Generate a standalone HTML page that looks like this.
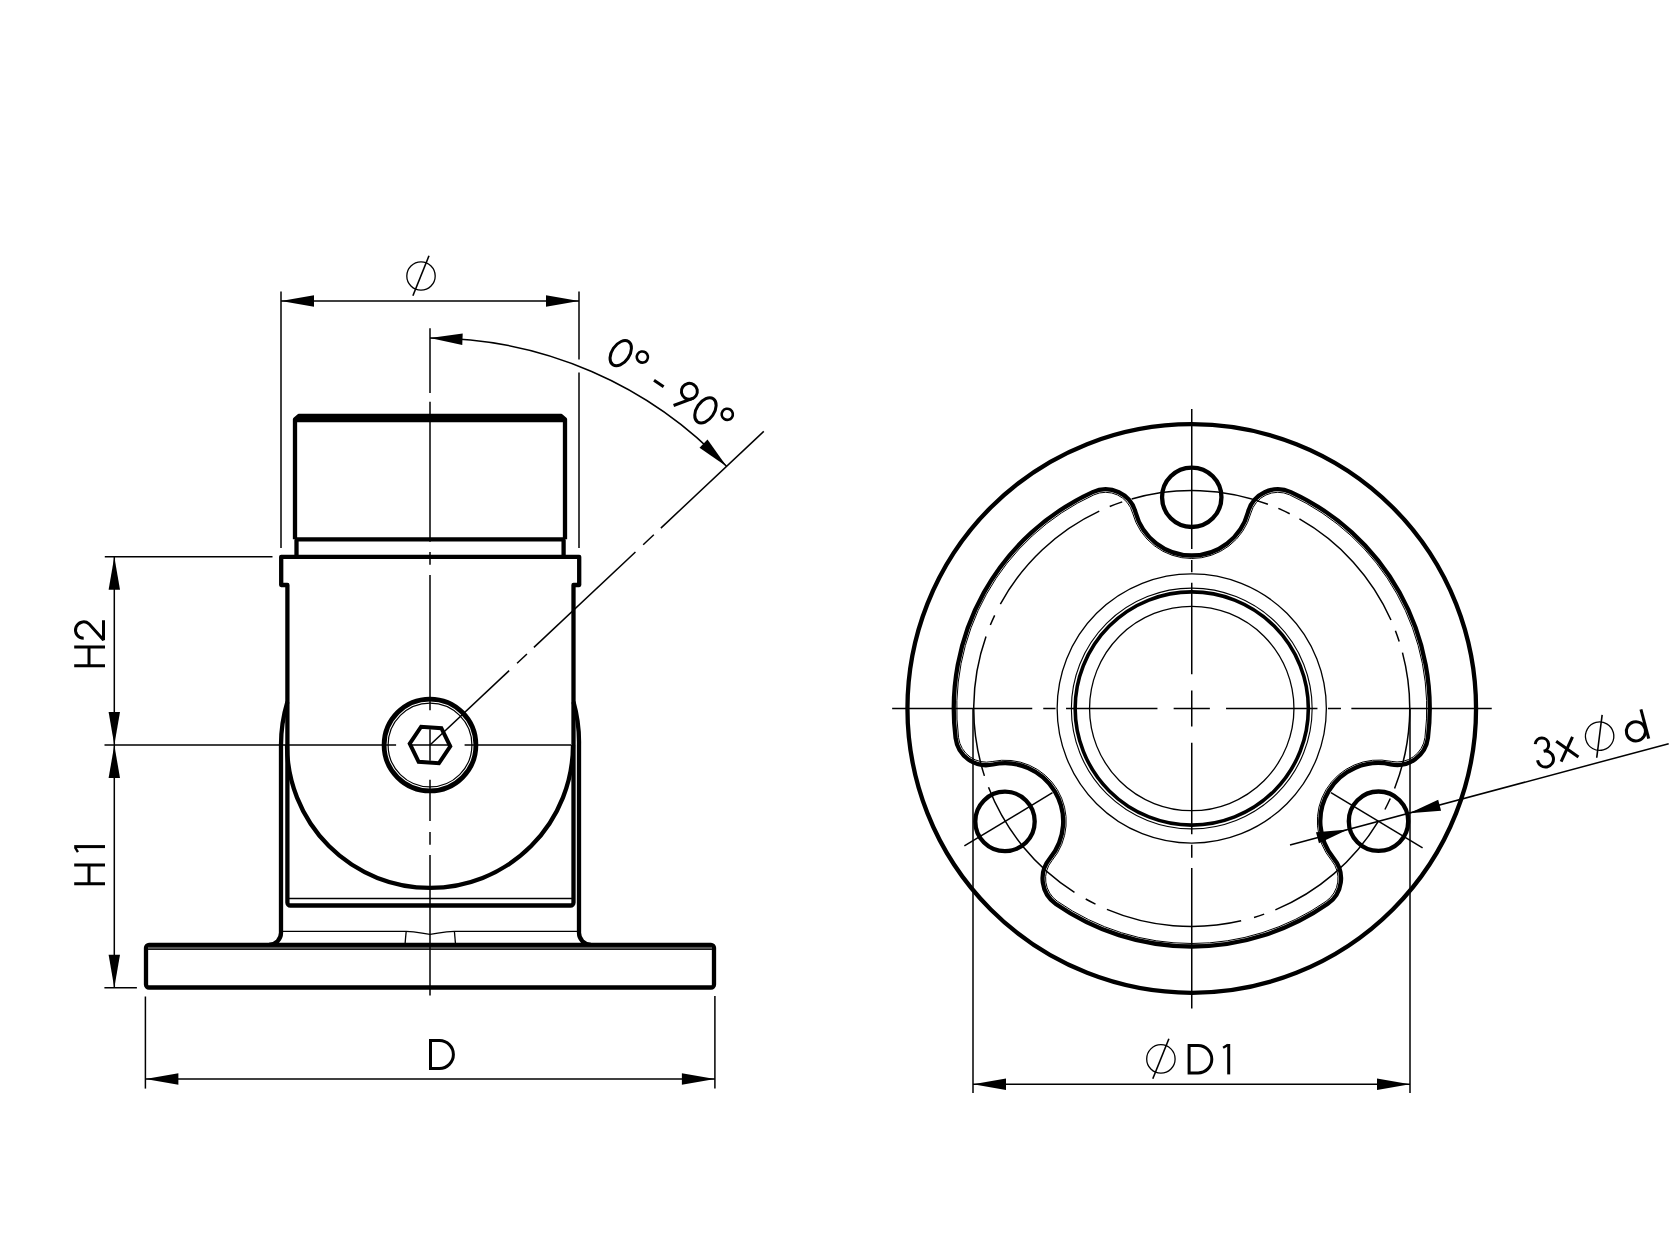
<!DOCTYPE html>
<html><head><meta charset="utf-8"><style>
html,body{margin:0;padding:0;background:#fff;font-family:"Liberation Sans",sans-serif;}
svg{display:block;}
</style></head><body>
<svg width="1680" height="1260" viewBox="0 0 1680 1260">
<rect x="0" y="0" width="1680" height="1260" fill="#fff"/>
<g fill="none" stroke="#000" stroke-linecap="butt">
<path d="M295 539.3V419.3L298.8 416H561.2L565 419.3V539.3" stroke-width="4.3" stroke-linejoin="round"/>
<line x1="296" y1="420" x2="564" y2="420" stroke-width="4.3"/>
<line x1="295" y1="539.3" x2="565" y2="539.3" stroke-width="4.3"/>
<line x1="296.5" y1="539.3" x2="296.5" y2="557" stroke-width="4.3"/>
<line x1="563.6" y1="539.3" x2="563.6" y2="557" stroke-width="4.3"/>
<path d="M287.4 902.5V585H281.2V556.8H579.2V585H573.5V902.5A3 3 0 0 1 570.5 905.5H290.4A3 3 0 0 1 287.4 902.5Z" stroke-width="4.3" stroke-linejoin="round"/>
<line x1="287.4" y1="898.5" x2="573" y2="898.5" stroke-width="1.3"/>
<path d="M287.4 701.8A149 149 0 0 0 281 745V932.5A12 12 0 0 1 269 944.8" stroke-width="4.3"/>
<path d="M573.5 701.8A149 149 0 0 1 579 745V932.5A12 12 0 0 0 591 944.8" stroke-width="4.3"/>
<path d="M287 745A143 143 0 0 0 573 745" stroke-width="4.3"/>
<circle cx="430" cy="745" r="45.9" stroke-width="4.8"/>
<circle cx="430" cy="745" r="41.9" stroke-width="1.2"/>
<path d="M409.75 743.58L421.1 726.75L441.35 728.17L450.25 746.42L438.9 763.25L418.65 761.83Z" stroke-width="4" stroke-linejoin="miter"/>
<path d="M281 931.4H406.2C418 931.4 424 934.3 430 934.3C436 934.3 442 931.4 454.4 931.4H579" stroke-width="1.3"/>
<path d="M406.2 931.4Q405.5 938 405 945" stroke-width="1.3"/>
<path d="M454.4 931.4Q455 938 455.6 945" stroke-width="1.3"/>
<path d="M149 944.8H711A3 3 0 0 1 714 947.8V984.5A3 3 0 0 1 711 987.5H149A3 3 0 0 1 146 984.5V947.8A3 3 0 0 1 149 944.8Z" stroke-width="4.3"/>
<rect x="148" y="946.9" width="564" height="2.2" fill="#555" stroke="none"/>
<line x1="148" y1="949.5" x2="712" y2="949.5" stroke-width="1" stroke="#1a1a1a"/>
<line x1="430" y1="328.3" x2="430" y2="393" stroke-width="1.5"/>
<line x1="430" y1="401.7" x2="430" y2="541.7" stroke-width="1.5"/>
<line x1="430" y1="552" x2="430" y2="564.8" stroke-width="1.5"/>
<line x1="430" y1="575" x2="430" y2="710.2" stroke-width="1.5"/>
<line x1="430" y1="729.3" x2="430" y2="760.7" stroke-width="1.5"/>
<line x1="430" y1="779.8" x2="430" y2="821.1" stroke-width="1.5"/>
<line x1="430" y1="832" x2="430" y2="844.8" stroke-width="1.5"/>
<line x1="430" y1="854.9" x2="430" y2="995.4" stroke-width="1.5"/>
<line x1="104.5" y1="745" x2="396.1" y2="745" stroke-width="1.5"/>
<line x1="409.5" y1="745" x2="451.2" y2="745" stroke-width="1.5"/>
<line x1="464.6" y1="745" x2="571" y2="745" stroke-width="1.5"/>
<line x1="430" y1="745" x2="509.15" y2="670.64" stroke-width="1.5"/>
<line x1="517.09" y1="663.18" x2="526.93" y2="653.93" stroke-width="1.5"/>
<line x1="533.93" y1="647.36" x2="635.45" y2="551.98" stroke-width="1.5"/>
<line x1="643.17" y1="544.73" x2="653.81" y2="534.73" stroke-width="1.5"/>
<line x1="660.88" y1="528.09" x2="763.79" y2="431.41" stroke-width="1.5"/>
<line x1="281" y1="291.5" x2="281" y2="548" stroke-width="1.5"/>
<line x1="579" y1="291.5" x2="579" y2="359.6" stroke-width="1.5"/>
<line x1="579" y1="372.5" x2="579" y2="548" stroke-width="1.5"/>
<line x1="281" y1="301" x2="579" y2="301" stroke-width="1.5"/>
<path d="M281 301L314 295.3L314 306.7Z" fill="#000" stroke="none"/>
<path d="M579 301L546 306.7L546 295.3Z" fill="#000" stroke="none"/>
<path d="M726.69 466.39A407 407 0 0 0 430 338" stroke-width="1.5"/>
<path d="M430 338L462.7 333.6L462.25 344.99Z" fill="#000" stroke="none"/>
<path d="M726.69 466.39L699.52 447.67L707.51 439.54Z" fill="#000" stroke="none"/>
<line x1="104.8" y1="556.8" x2="272.5" y2="556.8" stroke-width="1.5"/>
<line x1="104.4" y1="987.7" x2="136.9" y2="987.7" stroke-width="1.5"/>
<line x1="114.3" y1="556.8" x2="114.3" y2="987.7" stroke-width="1.5"/>
<path d="M114.3 556.8L120 589.8L108.6 589.8Z" fill="#000" stroke="none"/>
<path d="M114.3 745L108.6 712L120 712Z" fill="#000" stroke="none"/>
<path d="M114.3 745L120 778L108.6 778Z" fill="#000" stroke="none"/>
<path d="M114.3 987.7L108.6 954.7L120 954.7Z" fill="#000" stroke="none"/>
<line x1="145.4" y1="996.5" x2="145.4" y2="1088.6" stroke-width="1.5"/>
<line x1="714.9" y1="996" x2="714.9" y2="1088.6" stroke-width="1.5"/>
<line x1="145.4" y1="1079" x2="714.9" y2="1079" stroke-width="1.5"/>
<path d="M145.4 1079L178.4 1073.3L178.4 1084.7Z" fill="#000" stroke="none"/>
<path d="M714.9 1079L681.9 1084.7L681.9 1073.3Z" fill="#000" stroke="none"/>
<circle cx="1191.75" cy="708.5" r="284.3" stroke-width="4.3"/>
<circle cx="1191.75" cy="497.3" r="29.7" stroke-width="4.3"/>
<circle cx="1005" cy="821.4" r="29.7" stroke-width="4.3"/>
<circle cx="1378.5" cy="821.2" r="29.7" stroke-width="4.3"/>
<circle cx="1191.75" cy="708.5" r="134.6" stroke-width="1.3"/>
<circle cx="1191.75" cy="708.5" r="120.4" stroke-width="1.1"/>
<circle cx="1191.75" cy="708.5" r="116.6" stroke-width="3.6"/>
<circle cx="1191.75" cy="708.5" r="102.2" stroke-width="1.3"/>
<path d="M1092.66 492.11A31 31 0 0 1 1135.52 512.3A58.2 58.2 0 0 0 1247.98 512.3A31 31 0 0 1 1290.84 492.11A238 238 0 0 1 1427.94 737.79A31 31 0 0 1 1390.69 764.29A58.2 58.2 0 0 0 1333.83 858.51A31 31 0 0 1 1327.75 903.82A238 238 0 0 1 1055.87 903.9A31 31 0 0 1 1049.74 858.62A58.2 58.2 0 0 0 992.83 764.49A31 31 0 0 1 955.59 738.02A238 238 0 0 1 1092.66 492.11" stroke-width="4.3"/>
<path d="M1093.91 494.84A28 28 0 0 1 1132.62 513.08A61.2 61.2 0 0 0 1250.88 513.08A28 28 0 0 1 1289.59 494.84A235 235 0 0 1 1424.96 737.42A28 28 0 0 1 1391.31 761.36A61.2 61.2 0 0 0 1331.53 860.43A28 28 0 0 1 1326.03 901.35A235 235 0 0 1 1057.59 901.44A28 28 0 0 1 1052.05 860.54A61.2 61.2 0 0 0 992.2 761.55A28 28 0 0 1 958.56 737.64A235 235 0 0 1 1093.91 494.84" stroke-width="1"/>
<path d="M1394.58 788.4A218 218 0 0 0 1402.47 652.63" stroke-width="1.5"/>
<path d="M1399.2 641.5A218 218 0 0 0 1395.41 630.73" stroke-width="1.5"/>
<path d="M1390.98 620.01A218 218 0 0 0 1299.43 518.95" stroke-width="1.5"/>
<path d="M1289.7 513.75A218 218 0 0 0 1278.33 508.43" stroke-width="1.5"/>
<path d="M1267.92 504.24A218 218 0 0 0 1131.66 498.94" stroke-width="1.5"/>
<path d="M1122.22 501.89A218 218 0 0 0 1109.73 506.52" stroke-width="1.5"/>
<path d="M1099.27 511.09A218 218 0 0 0 1000.35 604.15" stroke-width="1.5"/>
<path d="M994.66 615.34A218 218 0 0 0 990.34 625.08" stroke-width="1.5"/>
<path d="M986 636.45A218 218 0 0 0 984.42 775.87" stroke-width="1.5"/>
<path d="M988.5 787.33A218 218 0 0 0 1074.46 892.26" stroke-width="1.5"/>
<path d="M1085.73 898.98A218 218 0 0 0 1095.5 904.1" stroke-width="1.5"/>
<path d="M1106.92 909.32A218 218 0 0 0 1241.16 920.83" stroke-width="1.5"/>
<path d="M1254.03 917.41A218 218 0 0 0 1264.16 914.12" stroke-width="1.5"/>
<path d="M1275.35 909.83A218 218 0 0 0 1378.12 821.59" stroke-width="1.5"/>
<path d="M1384.94 809.5A218 218 0 0 0 1390.28 798.56" stroke-width="1.5"/>
<line x1="892.15" y1="708.5" x2="1032.25" y2="708.5" stroke-width="1.5"/>
<line x1="1191.75" y1="408.9" x2="1191.75" y2="549" stroke-width="1.5"/>
<line x1="1043.25" y1="708.5" x2="1055.55" y2="708.5" stroke-width="1.5"/>
<line x1="1191.75" y1="560" x2="1191.75" y2="572.3" stroke-width="1.5"/>
<line x1="1066.05" y1="708.5" x2="1157.45" y2="708.5" stroke-width="1.5"/>
<line x1="1191.75" y1="582.8" x2="1191.75" y2="674.2" stroke-width="1.5"/>
<line x1="1173.65" y1="708.5" x2="1209.85" y2="708.5" stroke-width="1.5"/>
<line x1="1191.75" y1="690.4" x2="1191.75" y2="726.6" stroke-width="1.5"/>
<line x1="1226.05" y1="708.5" x2="1317.45" y2="708.5" stroke-width="1.5"/>
<line x1="1191.75" y1="742.8" x2="1191.75" y2="834.2" stroke-width="1.5"/>
<line x1="1327.95" y1="708.5" x2="1340.95" y2="708.5" stroke-width="1.5"/>
<line x1="1191.75" y1="844.7" x2="1191.75" y2="857.7" stroke-width="1.5"/>
<line x1="1351.35" y1="708.5" x2="1491.75" y2="708.5" stroke-width="1.5"/>
<line x1="1191.75" y1="868.1" x2="1191.75" y2="1008.5" stroke-width="1.5"/>
<line x1="1052.5" y1="792.69" x2="964.35" y2="845.97" stroke-width="1.5"/>
<line x1="1330.98" y1="792.52" x2="1422.59" y2="847.81" stroke-width="1.5"/>
<line x1="973" y1="708.5" x2="973" y2="1093" stroke-width="1.5"/>
<line x1="1410" y1="708.5" x2="1410" y2="1093" stroke-width="1.5"/>
<line x1="973" y1="1084.3" x2="1410" y2="1084.3" stroke-width="1.5"/>
<path d="M973 1084.3L1006 1078.6L1006 1090Z" fill="#000" stroke="none"/>
<path d="M1410 1084.3L1377 1090L1377 1078.6Z" fill="#000" stroke="none"/>
<line x1="1290" y1="845" x2="1668.7" y2="743.7" stroke-width="1.5"/>
<path d="M1347.9 829.6L1318.94 843.25L1316 832.23Z" fill="#000" stroke="none"/>
<path d="M1409.2 813.3L1438.16 799.65L1441.1 810.67Z" fill="#000" stroke="none"/>
<path d="M430.5 1040.6H439.5A13.9 13.9 0 0 1 439.5 1068.4H430.5Z" stroke-width="3" stroke-linejoin="miter"/>
<circle cx="421" cy="276" r="14.2" stroke-width="1.3"/>
<line x1="429" y1="255.8" x2="412.9" y2="295.8" stroke-width="1.6"/>
<circle cx="1160.9" cy="1058.9" r="14.2" stroke-width="1.3"/>
<line x1="1168.9" y1="1038.7" x2="1152.8" y2="1078.7" stroke-width="1.6"/>
<path d="M1189.1 1045.5H1198.1A13.7 13.7 0 0 1 1198.1 1072.9H1189.1Z" stroke-width="3" stroke-linejoin="miter"/>
<path d="M1228.7 1045.5V1072.9" stroke-width="3" stroke-linecap="square"/>
<path d="M1223.1 1047.7L1227.9 1044.9" stroke-width="2.4"/>
<g transform="rotate(-90)">
<path d="M-665.7 75.7V103.5M-647 75.7V103.5M-665.7 89H-647" stroke-width="3" stroke-linecap="square"/>
<path d="M-638.3 83.7A8.2 8.2 0 1 1 -623.82 88.97L-640 103.5H-620.3" stroke-width="3" stroke-miterlimit="1.5"/>
<path d="M-883.7 75.7V103.5M-865 75.7V103.5M-883.7 89H-865" stroke-width="3" stroke-linecap="square"/>
<path d="M-846.6 75.7V103.5" stroke-width="3" stroke-linecap="square"/>
<path d="M-852.2 77.9L-847.4 75.1" stroke-width="2.4"/>
</g>
<g transform="rotate(34)">
<ellipse cx="712.1" cy="-54.3" rx="8.8" ry="14" stroke-width="3"/>
<circle cx="732.2" cy="-63.2" r="5.6" stroke-width="2.6"/>
<line x1="754.9" y1="-50.4" x2="766.5" y2="-50.4" stroke-width="3"/>
<circle cx="790.3" cy="-61.1" r="8" stroke-width="3"/>
<line x1="797.55" y1="-57.72" x2="785.2" y2="-40.5" stroke-width="3"/>
<ellipse cx="814.3" cy="-54.3" rx="8.8" ry="14" stroke-width="3"/>
<circle cx="834.6" cy="-63.2" r="5.6" stroke-width="2.6"/>
</g>
<g transform="rotate(-15)">
<path d="M1290.3 1116.21A6.7 6.7 0 1 1 1296.6 1125.2A8 8 0 1 1 1288.4 1132.4" stroke-width="3"/>
<line x1="1311.3" y1="1118.8" x2="1328.7" y2="1139.8" stroke-width="3"/>
<line x1="1328.2" y1="1118.8" x2="1310.8" y2="1139.8" stroke-width="3"/>
<circle cx="1354.6" cy="1125.1" r="14.2" stroke-width="1.3"/>
<line x1="1362.5" y1="1105.2" x2="1346.2" y2="1145.2" stroke-width="1.6"/>
<circle cx="1390.9" cy="1129.8" r="9.6" stroke-width="3"/>
<line x1="1401.4" y1="1110" x2="1401.4" y2="1140.1" stroke-width="3"/>
</g>
</g>
</svg>
</body></html>
